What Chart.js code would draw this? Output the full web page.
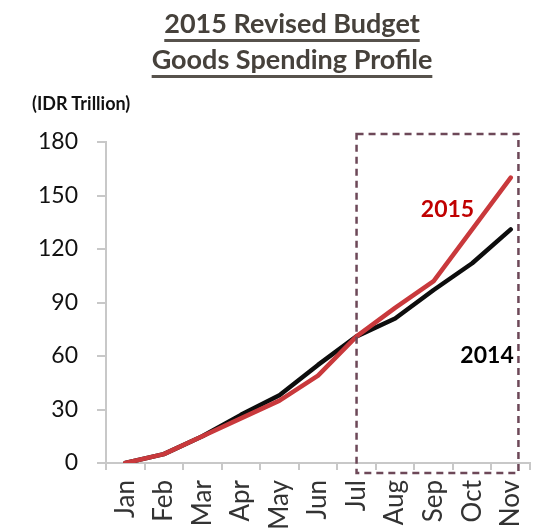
<!DOCTYPE html>
<html>
<head>
<meta charset="utf-8">
<script src="https://cdn.jsdelivr.net/npm/chart.js@4/dist/chart.umd.min.js"></script>
<style>
  html, body { margin: 0; padding: 0; background: #fff; }
  #wrap { position: relative; width: 533px; height: 530px; overflow: hidden; }
  #chart { position: absolute; left: 0; top: 0; }
  .title {
    position: absolute; left: 0; width: 584px; text-align: center;
    font: bold 27px Lato, sans-serif; color: #46413b; line-height: 30px;
  }
  .title span {
    text-decoration: underline; text-decoration-color: #57524c;
    text-decoration-thickness: 3px; text-underline-offset: 6px;
  }
  .unit {
    position: absolute; left: 32px; top: 92px;
    font: bold 18px Lato, sans-serif; color: #111;
  }
</style>
</head>
<body>
<div id="wrap">
  <canvas id="chart" width="533" height="530"></canvas>
  <div class="title" style="top:8px"><span>2015 Revised Budget</span></div>
  <div class="title" style="top:44px"><span>Goods Spending Profile</span></div>
  <div class="unit">(IDR Trillion)</div>
</div>
<script>
const months = ['Jan', 'Feb', 'Mar', 'Apr', 'May', 'Jun', 'Jul', 'Aug', 'Sep', 'Oct', 'Nov']
const spend2014 = [0, 5, 15, 27, 38, 55, 71, 81, 97, 112, 131]
const spend2015 = [0, 5, 15, 25, 35, 49, 71, 87, 102, 131, 160]
const yTicks = [0, 30, 60, 90, 120, 150, 180]
const highlight = ['Jul', 'Nov']

// dashed box over the second half of the year + series names
const overlay = {
  id: 'overlay',
  afterDatasetsDraw(chart) {
    const { ctx, scales: { x, y } } = chart
    const step = x.getPixelForValue(1) - x.getPixelForValue(0)
    const left = x.getPixelForValue(months.indexOf(highlight[0]))
    const right = x.getPixelForValue(months.indexOf(highlight[1])) + step * 0.2
    const top = y.getPixelForValue(180) - 8
    const bottom = y.getPixelForValue(0) + 10

    ctx.save()
    ctx.strokeStyle = '#6d4858'
    ctx.lineWidth = 2.5
    ctx.setLineDash([7, 5])
    ctx.strokeRect(left, top, right - left, bottom - top)
    ctx.setLineDash([])

    ctx.font = 'bold 23px Lato, sans-serif'
    ctx.textAlign = 'right'
    ctx.textBaseline = 'middle'
    ctx.fillStyle = '#c00000'
    ctx.fillText('2015', x.getPixelForValue(9) + 2, y.getPixelForValue(142))
    ctx.fillStyle = '#000'
    ctx.fillText('2014', x.getPixelForValue(10) + 3, y.getPixelForValue(60))
    ctx.restore()
  }
}

new Chart(document.getElementById('chart'), {
  type: 'line',
  data: {
    labels: months,
    datasets: [
      {
        label: '2015',
        data: spend2015,
        borderColor: '#c9393c',
        borderWidth: 4.5,
        borderCapStyle: 'round',
        borderJoinStyle: 'round',
        pointRadius: 0,
        tension: 0,
        order: 0
      },
      {
        label: '2014',
        data: spend2014,
        borderColor: '#0d0d0d',
        borderWidth: 4.5,
        borderCapStyle: 'round',
        borderJoinStyle: 'round',
        pointRadius: 0,
        tension: 0,
        order: 1
      }
    ]
  },
  options: {
    responsive: false,
    animation: false,
    layout: { padding: { top: 142, right: 3, left: 0, bottom: 0 } },
    plugins: { legend: { display: false }, tooltip: { enabled: false } },
    scales: {
      x: {
        offset: true,
        grid: { offset: true, drawOnChartArea: false, tickLength: 7, color: '#c8c8c8', lineWidth: 2 },
        border: { color: '#c8c8c8', width: 2 },
        ticks: {
          minRotation: 90, maxRotation: 90, padding: 10,
          color: '#333', font: { family: 'Lato', size: 26 }
        },
        afterFit(s) {
          s.height = 67
          s.paddingLeft = 0
          s.paddingRight = 0
        }
      },
      y: {
        min: 0,
        max: 180,
        afterBuildTicks(s) { s.ticks = yTicks.map(v => ({ value: v })) },
        grid: { drawOnChartArea: false, tickLength: 9, color: '#c8c8c8', lineWidth: 2 },
        border: { color: '#c8c8c8', width: 2 },
        ticks: { padding: 19, color: '#111', font: { family: 'Lato', size: 23 } },
        afterFit(s) { s.width = 106 }
      }
    }
  },
  plugins: [overlay]
})
</script>
</body>
</html>
